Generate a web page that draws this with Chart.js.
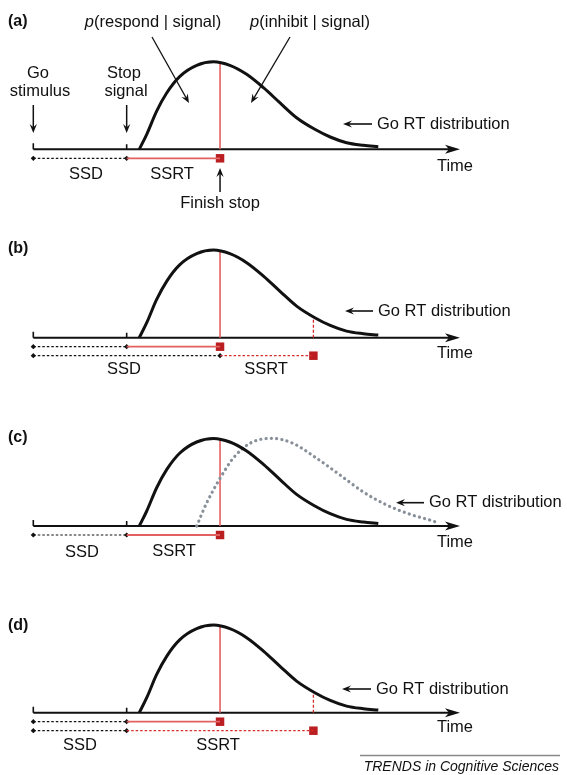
<!DOCTYPE html>
<html>
<head>
<meta charset="utf-8">
<script src="https://cdn.jsdelivr.net/npm/chart.js@4.4.0/dist/chart.umd.min.js"></script>
<style>
body{margin:0;background:#fff;width:567px;height:775px;overflow:hidden;position:relative}
canvas{position:absolute;left:0}
</style>
</head>
<body>
<canvas id="pa" width="567" height="230" style="top:0px"></canvas>
<canvas id="pb" width="567" height="190" style="top:230px"></canvas>
<canvas id="pc" width="567" height="185" style="top:420px"></canvas>
<canvas id="pd" width="567" height="170" style="top:605px"></canvas>
<script>
// go RT distribution (time in ms, height in arbitrary units)
const goTime    = [227, 243, 264, 286, 314, 350, 386, 421, 457, 493, 528, 564, 603, 636, 671, 707, 739];
const goDensity = [0, 15, 38, 56.6, 73, 84, 87.6, 84, 75, 61.6, 46.6, 31.6, 20, 12.3, 6.6, 4, 2.6];

// slowed go RT distribution, panel (c), dotted
const slowTime    = [350, 371, 400, 428, 464, 511, 556, 607, 657, 706, 757, 807, 856, 862];
const slowDensity = [0, 22.7, 47.7, 67.7, 82.7, 87.7, 82.7, 67.7, 51, 34.3, 21, 11.7, 5, 4];

const goStimulus = 0;
const stopSignal = 200;
const finishStop = 400;
const lateFinish = 600;
const timeMax = 914;
const peakLine = 86.5; // top of red line at finish stop
const lateLine = 20;   // top of dashed red line at late finish

const panelLabels = ['(a)', '(b)', '(c)', '(d)'];

const FONT = '"Liberation Sans", Arial, Helvetica, sans-serif';
const INK = '#111';
const RED = 'rgb(226,96,96)';
const RED_DASH = 'rgb(214,45,45)';
const SQUARE = 'rgb(186,30,32)';
const ROW1 = -9, ROW2 = -18;

function curve(t, d, extra) {
  return Object.assign({
    data: t.map((x, i) => ({x: x, y: d[i]})),
    showLine: true, pointRadius: 0, borderColor: INK, borderWidth: 3,
    cubicInterpolationMode: 'monotone', fill: false, clip: false
  }, extra || {});
}
function seg(t0, y0, t1, y1, color, dash, width) {
  return {data: [{x: t0, y: y0}, {x: t1, y: y1}], showLine: true, pointRadius: 0,
    borderColor: color, borderDash: dash, borderWidth: width, clip: false};
}
function dots(ts, y) {
  return {data: ts.map(t => ({x: t, y: y})), showLine: false, pointStyle: 'rectRot',
    pointRadius: 2.6, backgroundColor: INK, borderWidth: 0, clip: false};
}
function square(t, y) {
  return {data: [{x: t, y: y}], showLine: false, pointStyle: 'rect', pointRadius: 6,
    backgroundColor: SQUARE, borderWidth: 0, clip: false};
}

function arrow(ctx, x1, y1, x2, y2, w) {
  const a = Math.atan2(y2 - y1, x2 - x1), c = Math.cos(a), s = Math.sin(a);
  const head = 9, half = 3.6;
  ctx.save();
  ctx.strokeStyle = ctx.fillStyle = INK;
  ctx.lineWidth = w || 1.5;
  ctx.beginPath(); ctx.moveTo(x1, y1); ctx.lineTo(x2 - c * head * 0.6, y2 - s * head * 0.6); ctx.stroke();
  ctx.beginPath();
  ctx.moveTo(x2, y2);
  ctx.lineTo(x2 - c * head + s * half, y2 - s * head - c * half);
  ctx.lineTo(x2 - c * head * 0.65, y2 - s * head * 0.65);
  ctx.lineTo(x2 - c * head - s * half, y2 - s * head + c * half);
  ctx.closePath(); ctx.fill();
  ctx.restore();
}
function text(ctx, str, x, y, align, font) {
  ctx.save();
  ctx.fillStyle = INK;
  ctx.font = font || ('16.5px ' + FONT);
  ctx.textAlign = align || 'center';
  ctx.textBaseline = 'middle';
  ctx.fillText(str, x, y);
  ctx.restore();
}
function pText(ctx, rest, cx, y) {
  ctx.save();
  ctx.font = 'italic 16.5px ' + FONT;
  const w1 = ctx.measureText('p').width;
  ctx.font = '16.5px ' + FONT;
  const w2 = ctx.measureText(rest).width;
  const x0 = cx - (w1 + w2) / 2;
  ctx.restore();
  text(ctx, 'p', x0, y, 'left', 'italic 16.5px ' + FONT);
  text(ctx, rest, x0 + w1, y, 'left');
}

function makePanel(id, top, axis, idx, sets, extras) {
  const canvas = document.getElementById(id);
  const H = canvas.height;
  const local = axis - top;
  const deco = {
    id: 'deco' + idx,
    beforeDatasetsDraw(chart) {
      const ctx = chart.ctx, xs = chart.scales.x, ys = chart.scales.y;
      const y0 = ys.getPixelForValue(0);
      const xa = xs.getPixelForValue(goStimulus), xb = xs.getPixelForValue(timeMax);
      ctx.save();
      ctx.strokeStyle = ctx.fillStyle = INK;
      ctx.lineWidth = 2;
      ctx.beginPath(); ctx.moveTo(xa, y0); ctx.lineTo(xb - 10, y0); ctx.stroke();
      ctx.beginPath(); ctx.moveTo(xb, y0); ctx.lineTo(xb - 15, y0 - 4.5); ctx.lineTo(xb - 11, y0);
      ctx.lineTo(xb - 15, y0 + 4.5); ctx.closePath(); ctx.fill();
      ctx.lineWidth = 1.6;
      ctx.beginPath(); ctx.moveTo(xa, y0); ctx.lineTo(xa, y0 - 6);
      const xs2 = xs.getPixelForValue(stopSignal);
      ctx.moveTo(xs2, y0); ctx.lineTo(xs2, y0 - 5); ctx.stroke();
      ctx.restore();
    },
    afterDatasetsDraw(chart) {
      const ctx = chart.ctx;
      const X = t => chart.scales.x.getPixelForValue(t);
      const g = y => y - top;
      text(ctx, panelLabels[idx], 8, g(extras.labelY), 'left', 'bold 16px ' + FONT);
      text(ctx, 'Time', 455, g(extras.timeY));
      arrow(ctx, extras.goArrow[0], g(extras.goY), extras.goArrow[1], g(extras.goY), 1.6);
      text(ctx, 'Go RT distribution', extras.goArrow[0] + 5, g(extras.goY), 'left');
      text(ctx, 'SSD', extras.ssd[0], g(extras.ssd[1]));
      text(ctx, 'SSRT', extras.ssrt[0], g(extras.ssrt[1]));
      if (extras.more) extras.more(ctx, X, g);
    }
  };
  return new Chart(canvas, {
    type: 'scatter',
    data: {datasets: sets},
    options: {
      responsive: false, animation: false, devicePixelRatio: 1,
      layout: {padding: {left: 33.3, right: 567 - 460, top: local - 100, bottom: H - (local + 30)}},
      scales: {
        x: {type: 'linear', min: 0, max: timeMax, display: false},
        y: {type: 'linear', min: -30, max: 100, display: false}
      },
      plugins: {legend: {display: false}, tooltip: {enabled: false}}
    },
    plugins: [deco]
  });
}

const goCurve = () => curve(goTime, goDensity);
const finishLine = () => seg(finishStop, 0, finishStop, peakLine, RED, [], 1.6);
const lateLineSet = () => seg(lateFinish, 0, lateFinish, lateLine, RED_DASH, [3, 2], 1.3);
const row1 = () => [
  seg(goStimulus, ROW1, stopSignal, ROW1, INK, [2.5, 2], 1.2),
  seg(stopSignal, ROW1, finishStop, ROW1, RED, [], 1.8),
  dots([goStimulus, stopSignal], ROW1),
  square(finishStop, ROW1)
];

// (a)
makePanel('pa', 0, 149.3, 0, [goCurve(), finishLine()].concat(row1()), {
  labelY: 22, timeY: 166, goY: 124, goArrow: [372, 343], ssd: [86, 174], ssrt: [172, 174],
  more(ctx, X, g) {
    pText(ctx, '(respond | signal)', 153, g(22));
    pText(ctx, '(inhibit | signal)', 310, g(22));
    arrow(ctx, 152, g(37), 189, g(103), 1.3);
    arrow(ctx, 290, g(37), 251, g(103), 1.3);
    text(ctx, 'Go', 38, g(73));
    text(ctx, 'stimulus', 40, g(91));
    text(ctx, 'Stop', 124, g(73));
    text(ctx, 'signal', 126, g(91));
    arrow(ctx, X(goStimulus), g(105), X(goStimulus), g(133), 1.5);
    arrow(ctx, X(stopSignal), g(105), X(stopSignal), g(133), 1.5);
    arrow(ctx, X(finishStop), g(192), X(finishStop), g(168), 1.5);
    text(ctx, 'Finish stop', X(finishStop), g(203));
  }
});

// (b)
makePanel('pb', 230, 337.7, 1, [goCurve(), finishLine(), lateLineSet()].concat(row1(), [
  seg(goStimulus, ROW2, finishStop, ROW2, INK, [2.5, 2], 1.2),
  seg(finishStop, ROW2, lateFinish, ROW2, RED_DASH, [2.5, 2], 1.3),
  dots([goStimulus, finishStop], ROW2),
  square(lateFinish, ROW2)
]), {labelY: 249, timeY: 353, goY: 311, goArrow: [373, 345], ssd: [124, 369], ssrt: [266, 369]});

// (c)
makePanel('pc', 420, 526, 2, [
  goCurve(),
  curve(slowTime, slowDensity, {borderColor: 'rgb(135,143,153)', borderWidth: 3.2, borderDash: [0.1, 5.2], borderCapStyle: 'round'}),
  finishLine()
].concat(row1()), {labelY: 438, timeY: 542, goY: 502.7, goArrow: [424, 396], ssd: [82, 552], ssrt: [174, 551]});

// (d)
makePanel('pd', 605, 712.7, 3, [goCurve(), finishLine(), lateLineSet()].concat(row1(), [
  seg(goStimulus, ROW2, stopSignal, ROW2, INK, [2.5, 2], 1.2),
  seg(stopSignal, ROW2, lateFinish, ROW2, RED_DASH, [2.5, 2], 1.3),
  dots([goStimulus, stopSignal], ROW2),
  square(lateFinish, ROW2)
]), {labelY: 626, timeY: 727, goY: 689, goArrow: [371, 342], ssd: [80, 745], ssrt: [218, 745],
  more(ctx, X, g) {
    ctx.save();
    ctx.strokeStyle = '#8a8a8a'; ctx.lineWidth = 1.5;
    ctx.beginPath(); ctx.moveTo(360, g(755.5)); ctx.lineTo(560, g(755.5)); ctx.stroke();
    ctx.restore();
    text(ctx, 'TRENDS in Cognitive Sciences', 559, g(767), 'right', 'italic 14px ' + FONT);
  }
});
</script>
</body>
</html>
